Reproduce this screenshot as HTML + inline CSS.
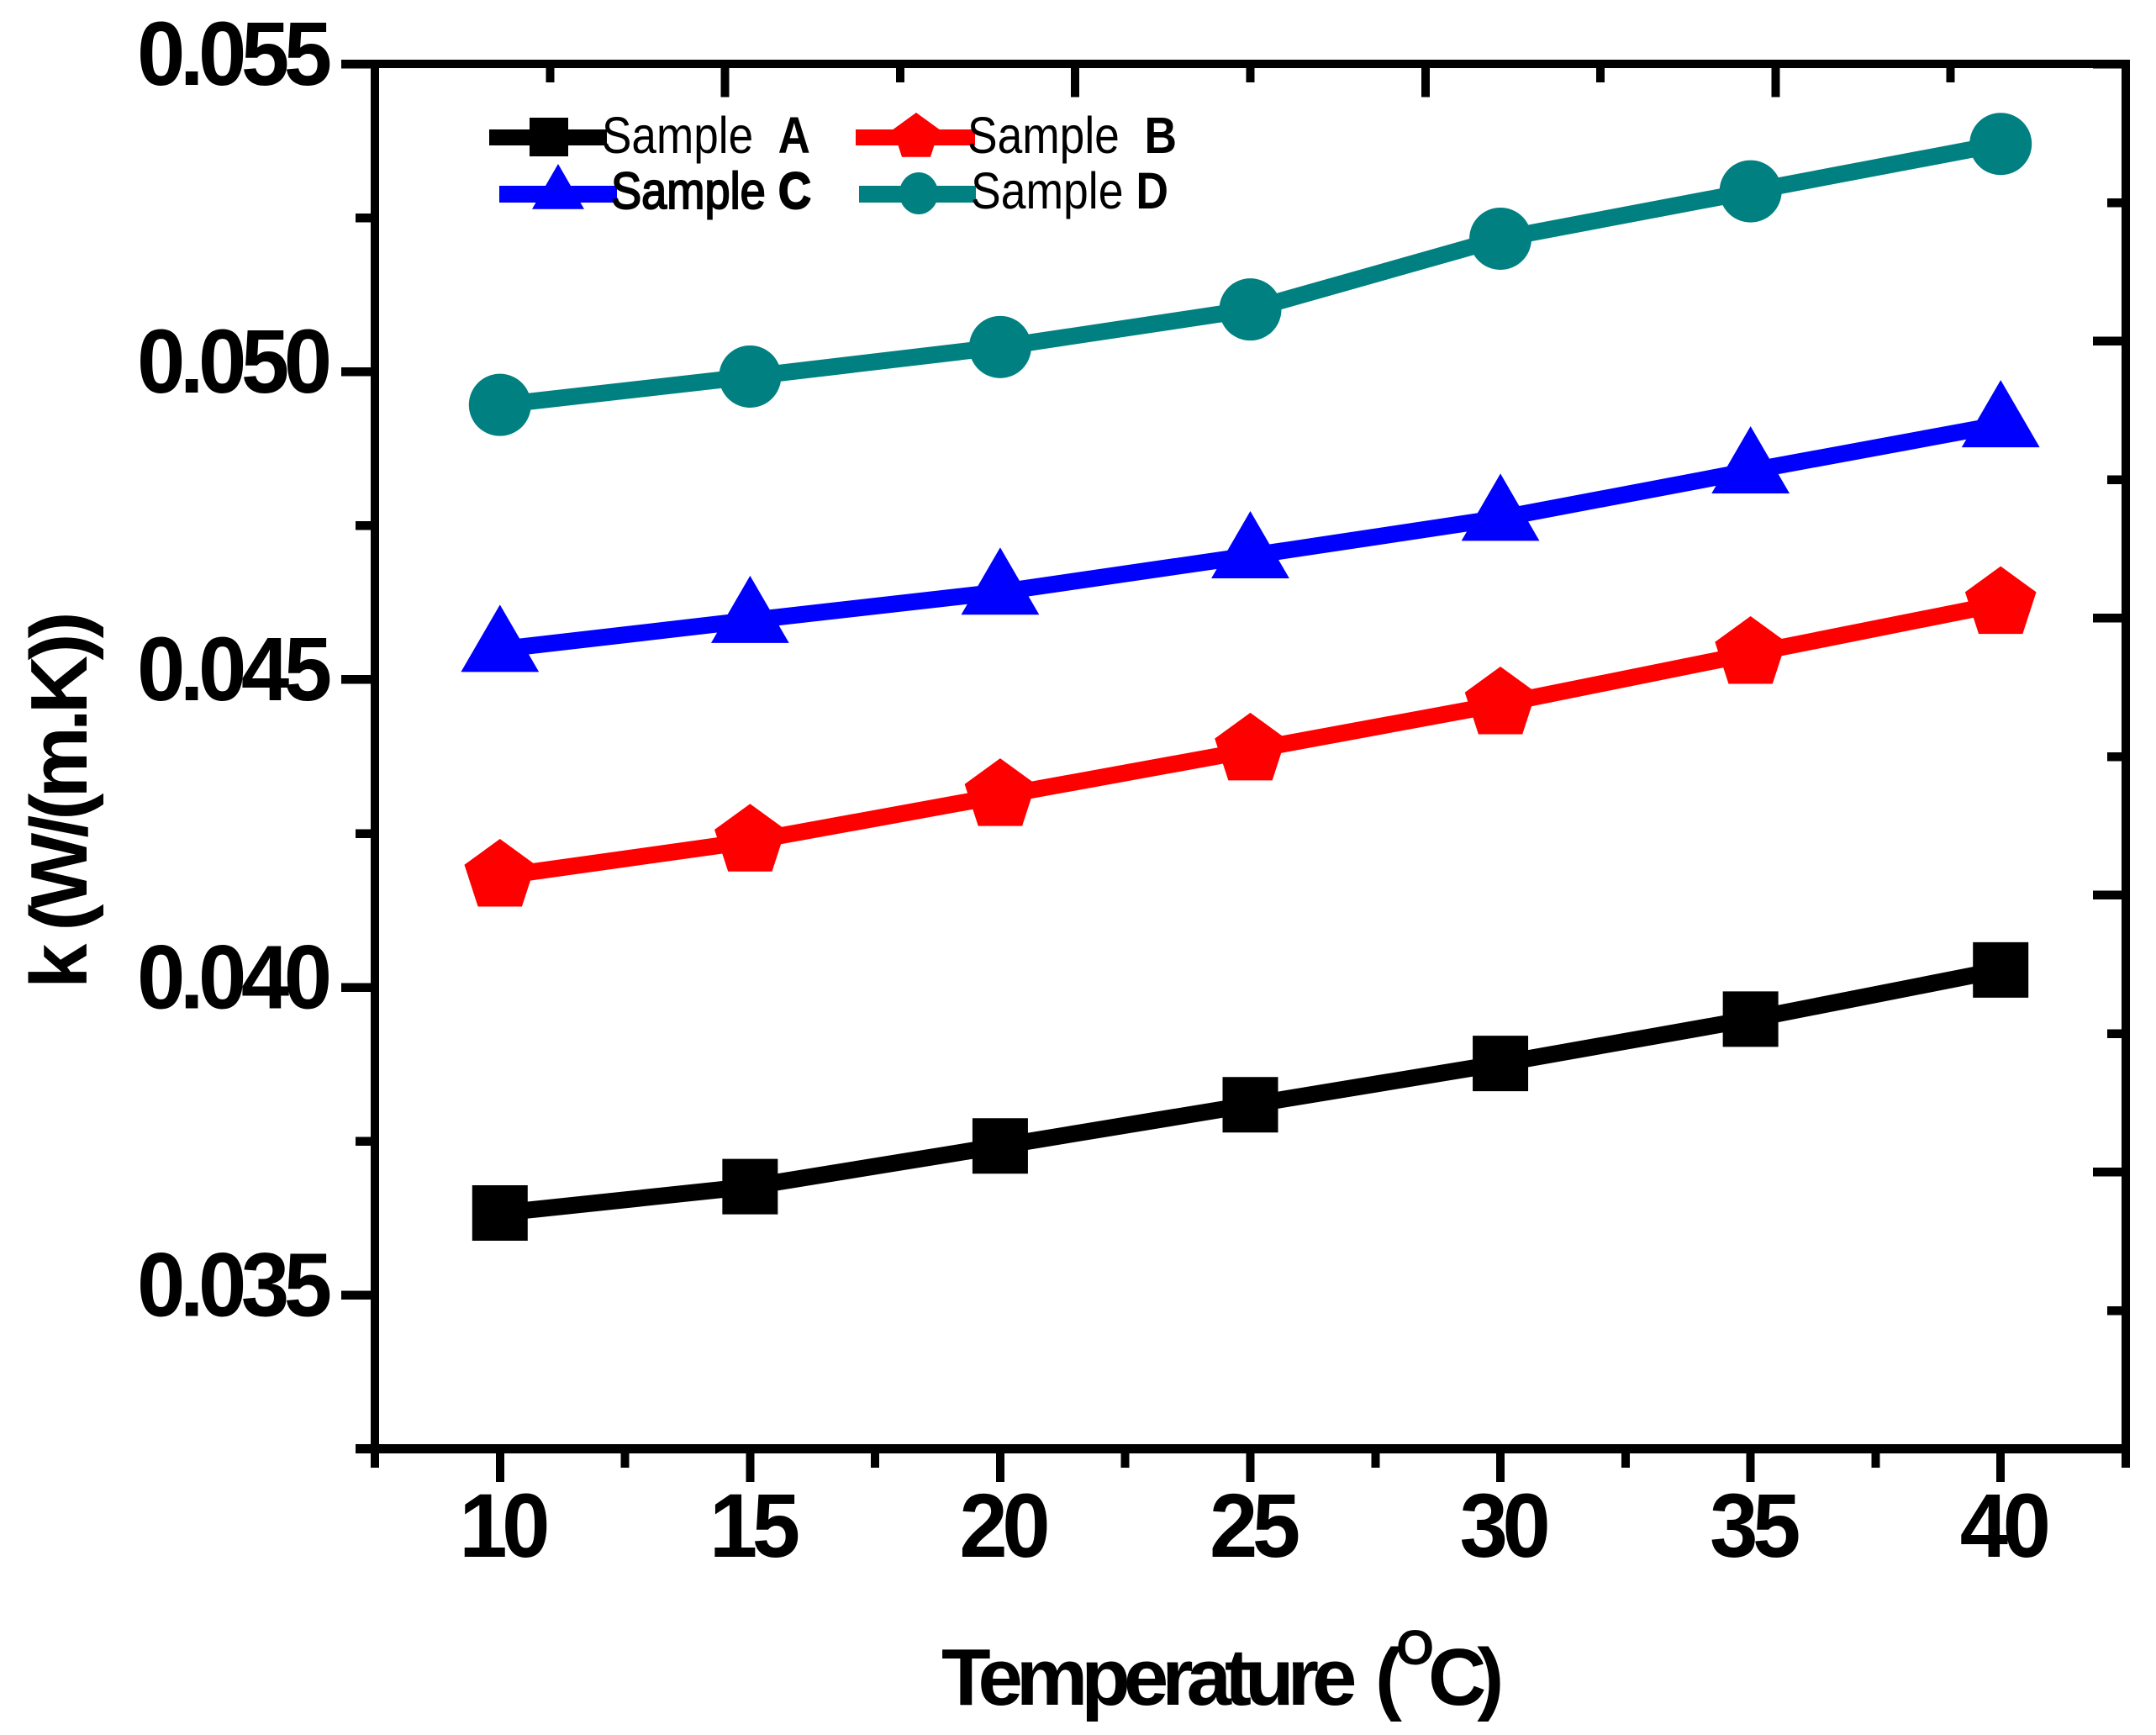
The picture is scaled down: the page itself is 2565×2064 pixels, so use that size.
<!DOCTYPE html>
<html lang="en">
<head>
<meta charset="utf-8">
<title>Thermal conductivity vs temperature</title>
<style>
  html, body { margin: 0; padding: 0; background: #fff; }
  svg { display: block; }
  text { font-family: "Liberation Sans", Arial, sans-serif; fill: #000; white-space: pre; }
  .tick-label { font-size: 108px; font-weight: 700; letter-spacing: -6.8px; }
  .axis-title { font-size: 96px; font-weight: 700; }
  .legend-text { font-size: 61px; }
</style>
</head>
<body>
<svg id="chart" xmlns="http://www.w3.org/2000/svg" width="2565" height="2064" viewBox="0 0 2565 2064">
  <rect x="0" y="0" width="2565" height="2064" fill="#fff"/>
  <g id="axes" shape-rendering="crispEdges"></g>
  <g id="tick-labels"></g>
  <g id="series"></g>

  <g>
    <g>
      <rect x="582" y="154" width="140" height="19" fill="#000"/>
      <rect x="630" y="140" width="46" height="46" fill="#000"/>
      <text class="legend-text" x="716" y="182" textLength="248" lengthAdjust="spacingAndGlyphs">Sample  <tspan font-weight="700">A</tspan></text>
    </g>
    <g>
      <rect x="1018" y="154" width="142" height="19" fill="#f00"/>
      <polygon points="1090,134 1117.6,154 1107,186.7 1073,186.7 1062.4,154" fill="#f00"/>
      <text class="legend-text" x="1151" y="182" textLength="249" lengthAdjust="spacingAndGlyphs">Sample  <tspan font-weight="700">B</tspan></text>
    </g>
    <g>
      <rect x="594" y="221" width="140" height="20" fill="#00f"/>
      <polygon points="664,195 695,248.7 633,248.7" fill="#00f"/>
      <text class="legend-text" x="727" y="248" textLength="238" lengthAdjust="spacingAndGlyphs" stroke="#000" stroke-width="2">Sample <tspan font-weight="700">C</tspan></text>
    </g>
    <g>
      <rect x="1022" y="221" width="139" height="20" fill="#008080"/>
      <ellipse cx="1093" cy="230" rx="23" ry="25" fill="#008080"/>
      <text class="legend-text" x="1155" y="248" textLength="235" lengthAdjust="spacingAndGlyphs">Sample <tspan font-weight="700">D</tspan></text>
    </g>
  </g>

  <text class="axis-title" transform="translate(103 1176) rotate(-90)" letter-spacing="-5.8">k (W/(m.K))</text>
  <text class="axis-title" y="2028"><tspan x="1120" letter-spacing="-8">Temperature</tspan><tspan x="1636">(</tspan><tspan x="1661" y="1980" font-size="58">O</tspan><tspan x="1699" y="2028" letter-spacing="-11">C)</tspan></text>
</svg>

<script>
const categories = [10, 15, 20, 25, 30, 35, 40];
const sampleA = [0.03633, 0.03676, 0.03742, 0.03809, 0.03876, 0.03948, 0.04028];
const sampleB = [0.0418, 0.04237, 0.04311, 0.04385, 0.0446, 0.04542, 0.04623];
const sampleC = [0.04549, 0.04596, 0.04642, 0.04701, 0.04762, 0.04839, 0.04914];
const sampleD = [0.04946, 0.04992, 0.0504, 0.05101, 0.05216, 0.05293, 0.0537];

const xMajorTicks = [10, 15, 20, 25, 30, 35, 40];
const xMinorTicks = [7.5, 12.5, 17.5, 22.5, 27.5, 32.5, 37.5, 42.5];
const yMajorTicks = [0.035, 0.04, 0.045, 0.05, 0.055];
const yMinorTicks = [0.0325, 0.0375, 0.0425, 0.0475, 0.0525];
const yTickLabels = ['0.035', '0.040', '0.045', '0.050', '0.055'];
const xTickLabels = ['10', '15', '20', '25', '30', '35', '40'];
const frameTicks = [0, 1, 2, 3, 4, 5, 6, 7, 8, 9, 10];

const NS = 'http://www.w3.org/2000/svg';
const axesGroup = document.getElementById('axes');
const labelsGroup = document.getElementById('tick-labels');
const seriesGroup = document.getElementById('series');

function xScale(v) { return 446 + (v - 7.5) * (2529 - 446) / 35; }
function yScale(v) { return 76 + (0.055 - v) * (1723.5 - 76) / 0.0225; }
function topScale(i) { return 446 + i * (2529 - 446) / 10; }
function rightScale(i) { return 76 + i * (1723.5 - 76) / 10; }

function makeRect(parent, x0, y0, x1, y1, fill) {
  const r = document.createElementNS(NS, 'rect');
  r.setAttribute('x', x0);
  r.setAttribute('y', y0);
  r.setAttribute('width', x1 - x0);
  r.setAttribute('height', y1 - y0);
  r.setAttribute('fill', fill);
  parent.appendChild(r);
  return r;
}

let el;
el = makeRect(axesGroup, 441, 71, 451, 1746, '#000');


el = makeRect(axesGroup, 423, 1718, 2534, 1729, '#000');


el = makeRect(axesGroup, 406, 71, 2534, 81, '#000');


el = makeRect(axesGroup, 2524, 71, 2534, 1746, '#000');



xMajorTicks.forEach(function (v) {
  const t = makeRect(axesGroup, xScale(v) - 5, 1729, xScale(v) + 5, 1763, '#000');
  
  
});
xMinorTicks.forEach(function (v) {
  const t = makeRect(axesGroup, xScale(v) - 5, 1729, xScale(v) + 5, 1746, '#000');
  
  
});
yMajorTicks.forEach(function (v) {
  const t = makeRect(axesGroup, 406, yScale(v) - 5, 441, yScale(v) + 5.5, '#000');
  
  
});
yMinorTicks.forEach(function (v) {
  const t = makeRect(axesGroup, 423, yScale(v) - 5, 441, yScale(v) + 5.5, '#000');
  
  
});
frameTicks.forEach(function (i) {
  const bottom = i % 2 === 0 ? 115.6 : 98;
  const t = makeRect(axesGroup, topScale(i) - 5, 81, topScale(i) + 5, bottom, '#000');
  
  
});
frameTicks.forEach(function (i) {
  const left = i % 2 === 0 ? 2490 : 2507;
  const t = makeRect(axesGroup, left, rightScale(i) - 5, 2524, rightScale(i) + 5.5, '#000');
  
  
});

yMajorTicks.forEach(function (v, i) {
  const t = document.createElementNS(NS, 'text');
  t.setAttribute('class', 'tick-label');
  t.setAttribute('transform', 'translate(163 ' + (yScale(v) + 25) + ') scale(0.955 1)');
  t.textContent = yTickLabels[i];
  
  
  labelsGroup.appendChild(t);
});
xMajorTicks.forEach(function (v, i) {
  const t = document.createElementNS(NS, 'text');
  t.setAttribute('class', 'tick-label');
  t.setAttribute('transform', 'translate(' + (xScale(v) - 48.5) + ' 1852) scale(0.955 1)');
  t.textContent = xTickLabels[i];
  
  
  labelsGroup.appendChild(t);
});

function drawLine(values, color) {
  const line = document.createElementNS(NS, 'polyline');
  const pts = values.map(function (v, i) { return xScale(categories[i]) + ',' + yScale(v); });
  line.setAttribute('points', pts.join(' '));
  line.setAttribute('fill', 'none');
  line.setAttribute('stroke', color);
  line.setAttribute('stroke-width', 20);
  seriesGroup.appendChild(line);
  return line;
}
function polygonMarker(points, color) {
  const p = document.createElementNS(NS, 'polygon');
  p.setAttribute('points', points.map(function (q) { return q[0] + ',' + q[1]; }).join(' '));
  p.setAttribute('fill', color);
  seriesGroup.appendChild(p);
  return p;
}
function squareAt(cx, cy, color) {
  const h = 33;
  return polygonMarker([[cx - h, cy - h], [cx + h, cy - h], [cx + h, cy + h], [cx - h, cy + h]], color);
}
function pentagonAt(cx, cy, color) {
  const R = 44.5, pts = [];
  for (let k = 0; k < 5; k++) {
    const a = (-90 + 72 * k) * Math.PI / 180;
    pts.push([cx + R * Math.cos(a), cy + R * Math.sin(a)]);
  }
  return polygonMarker(pts, color);
}
function triangleAt(cx, cy, color) {
  return polygonMarker([[cx, cy - 53], [cx + 46.4, cy + 27], [cx - 46.4, cy + 27]], color);
}
function circleAt(cx, cy, color) {
  const c = document.createElementNS(NS, 'circle');
  c.setAttribute('cx', cx);
  c.setAttribute('cy', cy);
  c.setAttribute('r', 37);
  c.setAttribute('fill', color);
  seriesGroup.appendChild(c);
  return c;
}

let lineEl;
lineEl = drawLine(sampleA, '#000');


sampleA.forEach(function (v, i) {
  const m = squareAt(xScale(categories[i]), yScale(v), '#000');
  
  
});

lineEl = drawLine(sampleB, '#f00');


sampleB.forEach(function (v, i) {
  const m = pentagonAt(xScale(categories[i]), yScale(v), '#f00');
  
  
});

lineEl = drawLine(sampleC, '#00f');


sampleC.forEach(function (v, i) {
  const m = triangleAt(xScale(categories[i]), yScale(v), '#00f');
  
  
});

lineEl = drawLine(sampleD, '#008080');


sampleD.forEach(function (v, i) {
  const m = circleAt(xScale(categories[i]), yScale(v), '#008080');
  
  
});
</script>
</body>
</html>
